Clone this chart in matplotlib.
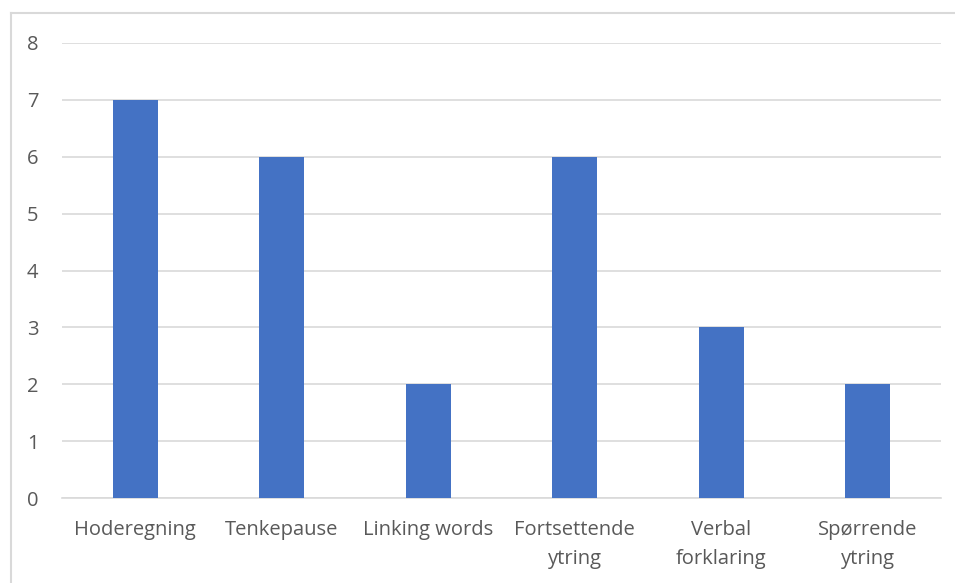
import matplotlib.pyplot as plt
from matplotlib.lines import Line2D

categories = ['Hoderegning', 'Tenkepause', 'Linking words', 'Fortsettende\nytring',
              'Verbal\nforklaring', 'Spørrende\nytring']
values = [7, 6, 2, 6, 3, 2]

plt.rcParams['font.family'] = ['Open Sans', 'DejaVu Sans']

fig = plt.figure(figsize=(9.55, 5.83), dpi=100)
ax = fig.add_axes([62 / 955, 1 - 498 / 583, 879 / 955, 455 / 583])

ax.bar(range(len(categories)), values, width=0.31, color='#4472C4', zorder=3)
ax.set_xlim(-0.5, len(categories) - 0.5)
ax.set_ylim(0, 8)
ax.set_yticks(range(9))
ax.set_xticks(range(len(categories)))
ax.set_xticklabels(categories, fontsize=14.5, color='#595959', linespacing=1.6)
ax.tick_params(axis='y', labelsize=14.5, labelcolor='#595959', length=0, pad=17)
ax.tick_params(axis='x', length=0, pad=16)
ax.grid(axis='y', color='#D9D9D9', linewidth=1.2, zorder=0)
for s in ['top', 'right', 'left']:
    ax.spines[s].set_visible(False)
ax.spines['bottom'].set_color('#D9D9D9')
ax.spines['bottom'].set_linewidth(1.2)

# chart area border (left and top edges visible)
fig.add_artist(Line2D([11 / 955, 11 / 955], [0, 1 - 13 / 583], color='#D9D9D9', lw=1.5))
fig.add_artist(Line2D([11 / 955, 1], [1 - 13 / 583, 1 - 13 / 583], color='#D9D9D9', lw=1.5))

plt.savefig('out.png', dpi=100)
